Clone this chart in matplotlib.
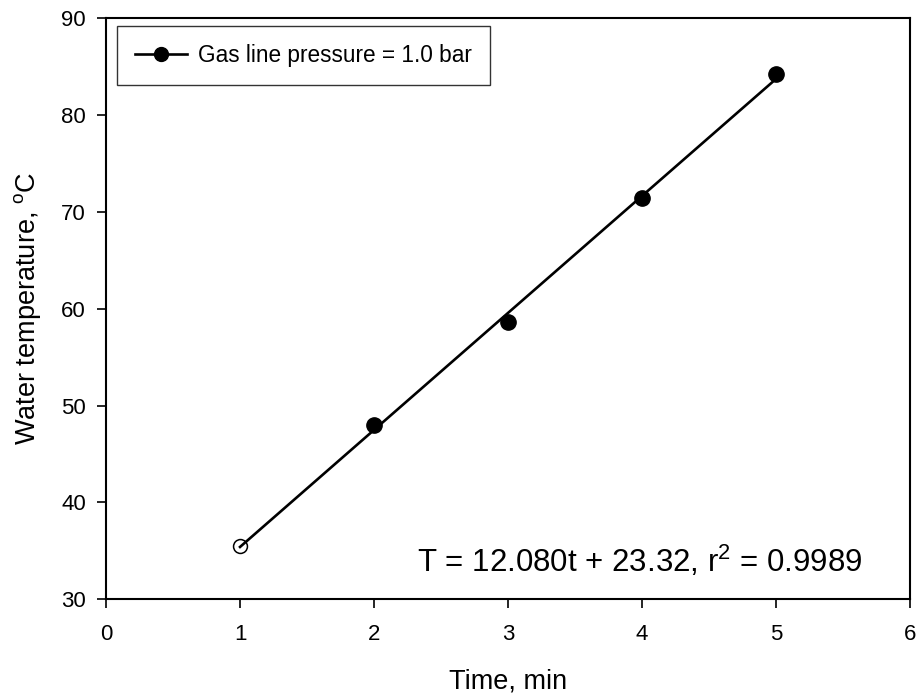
"""
Water temperature vs heating time, gas line pressure 1.0 bar, with linear fit.
"""

import matplotlib
matplotlib.use("Agg")
import matplotlib.pyplot as plt
import numpy as np

plt.rcParams["font.family"] = ["Liberation Sans", "DejaVu Sans"]
plt.rcParams["mathtext.fontset"] = "custom"
plt.rcParams["mathtext.rm"] = "Liberation Sans"

# Measured points (first point shown open)
TIME_MIN = [1, 2, 3, 4, 5]
WATER_TEMP_C = [35.5, 48.0, 58.6, 71.4, 84.2]

# Regression line coefficients as printed on the chart
FIT_SLOPE = 12.080
FIT_INTERCEPT = 23.32
FIT_R2 = 0.9989

X_TICKS = [0, 1, 2, 3, 4, 5, 6]
Y_TICKS = [30, 40, 50, 60, 70, 80, 90]


def main():
    fig = plt.figure(figsize=(9.22, 6.96), dpi=100)
    ax = fig.add_axes([0.115, 0.139, 0.872, 0.835])

    t_fit = np.array([TIME_MIN[0], TIME_MIN[-1]], dtype=float)
    ax.plot(t_fit, FIT_SLOPE * t_fit + FIT_INTERCEPT, color="black",
            linewidth=1.9, zorder=2)

    # open marker for t=1, filled for the rest
    ax.plot(TIME_MIN[:1], WATER_TEMP_C[:1], linestyle="none", marker="o",
            markersize=10, markerfacecolor="none", markeredgecolor="black",
            markeredgewidth=1.1, zorder=3)
    ax.plot(TIME_MIN[1:], WATER_TEMP_C[1:], linestyle="none", marker="o",
            markersize=11, color="black", zorder=3)

    # legend entry: line with filled marker
    ax.plot([], [], color="black", linewidth=1.9, marker="o", markersize=10,
            label="Gas line pressure = 1.0 bar")
    leg = ax.legend(loc="upper left", bbox_to_anchor=(0.0137, 0.986),
                    borderaxespad=0, fontsize=16.3, frameon=True, fancybox=False,
                    borderpad=0.78, handlelength=2.3, handletextpad=0.5)
    leg.get_frame().set_edgecolor("black")
    leg.get_frame().set_linewidth(1.0)

    ax.text(0.9415, 0.0465,
            f"T = {FIT_SLOPE:.3f}t + {FIT_INTERCEPT:.2f}, r$^{{\\mathrm{{2}}}}$ = {FIT_R2:.4f}",
            transform=ax.transAxes, ha="right", va="baseline", fontsize=22.5)

    ax.set_xlim(0, 6)
    ax.set_ylim(30, 90)
    ax.set_xticks(X_TICKS)
    ax.set_yticks(Y_TICKS)
    ax.tick_params(direction="out", length=6.5, width=1.2, labelsize=16, pad=8)
    ax.tick_params(axis="x", pad=11)
    for spine in ax.spines.values():
        spine.set_linewidth(1.5)

    ax.set_xlabel("Time, min", fontsize=19.5, labelpad=17)
    ax.set_ylabel("Water temperature, $^{\\mathrm{o}}$C", fontsize=19.5, labelpad=13)

    fig.savefig("out.png", dpi=100)
    plt.close(fig)


if __name__ == "__main__":
    main()
